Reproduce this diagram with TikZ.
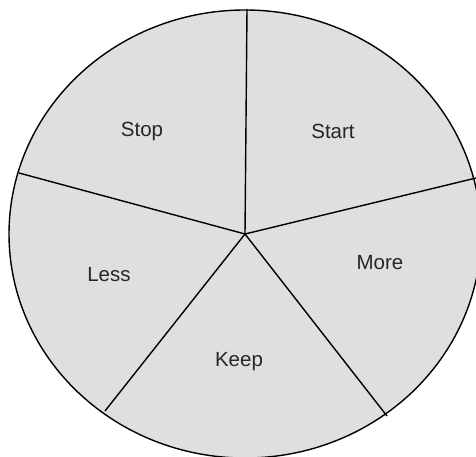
\documentclass[tikz,border=0pt]{standalone}
\usepackage{fontspec}
\setmainfont{Liberation Sans}
\definecolor{sectorgris}{HTML}{DFDFDF}
\tikzset{
  borde/.style={draw=black, line width=1.4pt},
  etiqueta/.style={font=\fontsize{20.5}{24}\selectfont, text=black!85}
}
\begin{document}
\begin{tikzpicture}[x=1pt, y=-1pt]
    \useasboundingbox (0,0) rectangle (476,457);

    % Circulo
    \coordinate (centro) at (245,234);
    \filldraw[fill=sectorgris, borde] (centro) ellipse [x radius=236pt, y radius=224pt];

    % Extremos de los radios
    \coordinate (R_arriba) at (247,9);
    \coordinate (R_der) at (476,178);
    \coordinate (R_izq) at (19,173);
    \coordinate (R_abizq) at (105,411);
    \coordinate (R_abder) at (387,416);

    % Radios
    \foreach \p in {R_arriba, R_der, R_izq, R_abizq, R_abder}
        \draw[borde] (centro) -- (\p);

    % Etiquetas de los sectores
    \node[etiqueta] (stop) at (142,131) {Stop};
    \node[etiqueta] (start) at (333,131) {Start};
    \node[etiqueta] (more) at (380,263) {More};
    \node[etiqueta] (less) at (109,275) {Less};
    \node[etiqueta] (keep) at (239,362) {Keep};
\end{tikzpicture}
\end{document}
